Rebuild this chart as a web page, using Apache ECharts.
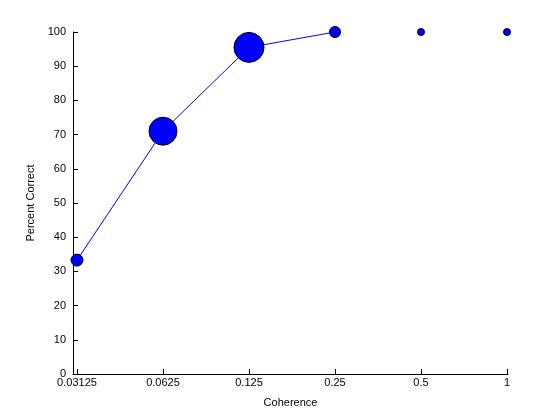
<!DOCTYPE html>
<html>
<head>
<meta charset="utf-8">
<script src="https://cdn.jsdelivr.net/npm/echarts@6/dist/echarts.min.js"></script>
<style>html,body{margin:0;padding:0;background:#fff}#c{width:560px;height:420px}</style>
</head>
<body>
<div id="c"></div>
<script>
var coherence = [0.03125, 0.0625, 0.125, 0.25, 0.5, 1];
var percentCorrect = [33.3, 71, 95.5, 100, 100, 100];
var markerSizes = [12, 28, 30, 11, 7, 7];
var connectedCount = 4;
var xTicks = [0.03125, 0.0625, 0.125, 0.25, 0.5, 1];
var xTickLabels = ['0.03125', '0.0625', '0.125', '0.25', '0.5', '1'];

var lineData = coherence.slice(0, connectedCount).map(function (c, i) { return [c, percentCorrect[i]]; });
var scatterData = coherence.map(function (c, i) { return { value: [c, percentCorrect[i]], symbolSize: markerSizes[i] }; });

var font = 'Liberation Sans, Arial, Helvetica, sans-serif';
var chart = echarts.init(document.getElementById('c'), null, { renderer: 'canvas' });
chart.setOption({
  animation: false,
  backgroundColor: '#fff',
  grid: { left: 73, right: 52, top: 32, bottom: 46, containLabel: false },
  xAxis: {
    type: 'log',
    logBase: 2,
    min: 0.03125 * Math.pow(2, -4 / 86),
    max: Math.pow(2, 1 / 86),
    name: 'Coherence',
    nameLocation: 'middle',
    nameGap: 23,
    nameTextStyle: { color: '#000', fontFamily: font, fontSize: 11 },
    axisLine: { onZero: false, lineStyle: { color: '#000', width: 1 } },
    axisTick: { inside: true, length: 5, lineStyle: { color: '#000' }, customValues: xTicks },
    axisLabel: {
      color: '#000', fontFamily: font, fontSize: 11, margin: 3,
      customValues: xTicks,
      formatter: function (v) {
        var idx = xTicks.findIndex(function (t) { return Math.abs(t - v) < 1e-9; });
        return idx >= 0 ? xTickLabels[idx] : '';
      }
    },
    splitLine: { show: false }
  },
  yAxis: {
    type: 'value',
    min: 0,
    max: 100,
    interval: 10,
    name: 'Percent Correct',
    nameLocation: 'middle',
    nameGap: 29,
    nameTextStyle: { color: '#000', fontFamily: font, fontSize: 11 },
    axisLine: { show: true, lineStyle: { color: '#000', width: 1 } },
    axisTick: { show: true, inside: true, length: 5, lineStyle: { color: '#000' } },
    axisLabel: { color: '#000', fontFamily: font, fontSize: 11, margin: 7 },
    splitLine: { show: false }
  },
  series: [
    {
      type: 'line',
      data: lineData,
      showSymbol: false,
      symbol: 'none',
      lineStyle: { color: '#0000ff', width: 1 },
      z: 2
    },
    {
      type: 'scatter',
      data: scatterData,
      symbol: 'circle',
      itemStyle: { color: '#0000ff', borderColor: '#000', borderWidth: 1, opacity: 1 },
      z: 3
    }
  ]
});
</script>
</body>
</html>
